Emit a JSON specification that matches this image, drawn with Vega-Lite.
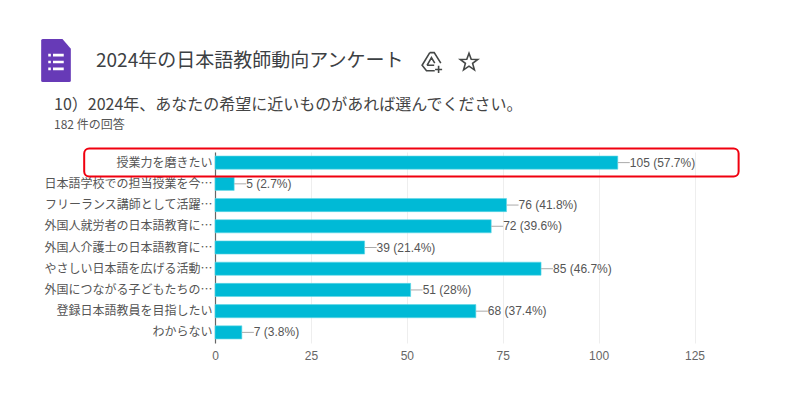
{
"$schema":"https://vega.github.io/schema/vega-lite/v6.json",
"width":479.5,"height":191,
"autosize":{"type":"none"},
"padding":{"left":215,"top":152,"right":105.5,"bottom":76},
"background":"#ffffff",
"config":{"view":{"stroke":null}},
"layer":[
{"data":{"values":[
{"label":"授業力を磨きたい","count":105,"text":"105 (57.7%)"},
{"label":"日本語学校での担当授業を今…","count":5,"text":"5 (2.7%)"},
{"label":"フリーランス講師として活躍…","count":76,"text":"76 (41.8%)"},
{"label":"外国人就労者の日本語教育に…","count":72,"text":"72 (39.6%)"},
{"label":"外国人介護士の日本語教育に…","count":39,"text":"39 (21.4%)"},
{"label":"やさしい日本語を広げる活動…","count":85,"text":"85 (46.7%)"},
{"label":"外国につながる子どもたちの…","count":51,"text":"51 (28%)"},
{"label":"登録日本語教員を目指したい","count":68,"text":"68 (37.4%)"},
{"label":"わからない","count":7,"text":"7 (3.8%)"}
]},
"encoding":{
"y":{"field":"label","type":"nominal","sort":null,"title":null,
"scale":{"paddingInner":0.38,"paddingOuter":0.19},
"axis":{"labelFont":"Noto Sans CJK JP","labelFontSize":12,"labelColor":"#555555","labelLimit":300,"labelPadding":3,"ticks":false,"domainColor":"#666666","domainWidth":1.2,"grid":false}},
"x":{"field":"count","type":"quantitative","title":null,
"scale":{"domain":[0,125],"nice":false,"zero":true},
"axis":{"values":[0,25,50,75,100,125],"labelFont":"Liberation Sans","labelFontSize":12,"labelColor":"#666666","labelPadding":7,"ticks":false,"domain":false,"grid":true,"gridColor":"#eeeeee","labelFlush":false}}
},
"layer":[
{"mark":{"type":"bar","fill":"#00bad6","stroke":"#5fd6e6","strokeWidth":0.6}},
{"mark":{"type":"rule","color":"#aaaaaa","strokeWidth":1,"x2Offset":12},"encoding":{"x2":{"field":"count"}}},
{"mark":{"type":"text","align":"left","baseline":"middle","dx":12,"font":"Liberation Sans","fontSize":12,"fill":"#555555"},"encoding":{"text":{"field":"text"}}},
{"transform":[{"filter":"datum.count==105"}],
 "mark":{"type":"bar","size":28,"fill":null,"stroke":"#f0000f","strokeWidth":2,"cornerRadius":5,"clip":false},
 "encoding":{"x":{"datum":-34.1},"x2":{"datum":136.5}}}
]},
{"data":{"values":[{"t":"2024年の日本語教師動向アンケート"}]},
 "mark":{"type":"text","x":-119,"y":-91,"align":"left","baseline":"middle","font":"Noto Sans CJK JP","fontSize":19,"fill":"#3c4043"},"encoding":{"text":{"field":"t"}}},
{"data":{"values":[{"t":"10）2024年、あなたの希望に近いものがあれば選んでください。"}]},
 "mark":{"type":"text","x":-161,"y":-47,"align":"left","baseline":"middle","font":"Noto Sans CJK JP","fontSize":16,"fill":"#444444"},"encoding":{"text":{"field":"t"}}},
{"data":{"values":[{"t":"182 件の回答"}]},
 "mark":{"type":"text","x":-161,"y":-27,"align":"left","baseline":"middle","font":"Noto Sans CJK JP","fontSize":12,"fill":"#555555"},"encoding":{"text":{"field":"t"}}},
{"data":{"values":[{"n":"icon"}]},"encoding":{},
 "mark":{"type":"point","x":-159,"y":-91.5,"size":1849,"filled":true,"fill":"#673ab7","opacity":1,"stroke":null,"shape":"M-0.62,-1 L0.3,-1 L0.69,-0.55 L0.69,0.93 Q0.69,1 0.62,1 L-0.62,1 Q-0.69,1 -0.69,0.93 L-0.69,-0.93 Q-0.69,-1 -0.62,-1 Z"}},
{"data":{"values":[{"n":"lines"}]},"encoding":{},
 "mark":{"type":"point","x":-159,"y":-90,"size":1849,"filled":true,"fill":"#ffffff","opacity":1,"stroke":null,"shape":"M-0.36,-0.38 H-0.24 V-0.26 H-0.36 Z M-0.14,-0.38 H0.36 V-0.26 H-0.14 Z M-0.36,-0.06 H-0.24 V0.06 H-0.36 Z M-0.14,-0.06 H0.36 V0.06 H-0.14 Z M-0.36,0.26 H-0.24 V0.38 H-0.36 Z M-0.14,0.26 H0.36 V0.38 H-0.14 Z"}},
{"data":{"values":[{"n":"drive"}]},"encoding":{},
 "mark":{"type":"point","x":217,"y":-90,"size":484,"filled":false,"fill":null,"stroke":"#444746","strokeWidth":1.6,"opacity":1,"shape":"M-0.2,-0.85 L0.2,-0.85 L0.8,0.1 M-0.2,-0.85 L-0.9,0.3 L-0.5,0.8 L0.25,0.8 M-0.45,0.3 L-0.05,-0.4 L0.25,0.1 M-0.45,0.3 L0.2,0.3 M0.6,0.35 V1 M0.28,0.68 H0.92"}},
{"data":{"values":[{"n":"star"}]},"encoding":{},
 "mark":{"type":"point","x":254,"y":-90,"size":340,"filled":false,"fill":null,"stroke":"#444746","strokeWidth":1.6,"opacity":1,"shape":"M0,-0.95 L0.24,-0.3 L0.95,-0.28 L0.39,0.15 L0.59,0.85 L0,0.45 L-0.59,0.85 L-0.39,0.15 L-0.95,-0.28 L-0.24,-0.3 Z"}}
]
}
